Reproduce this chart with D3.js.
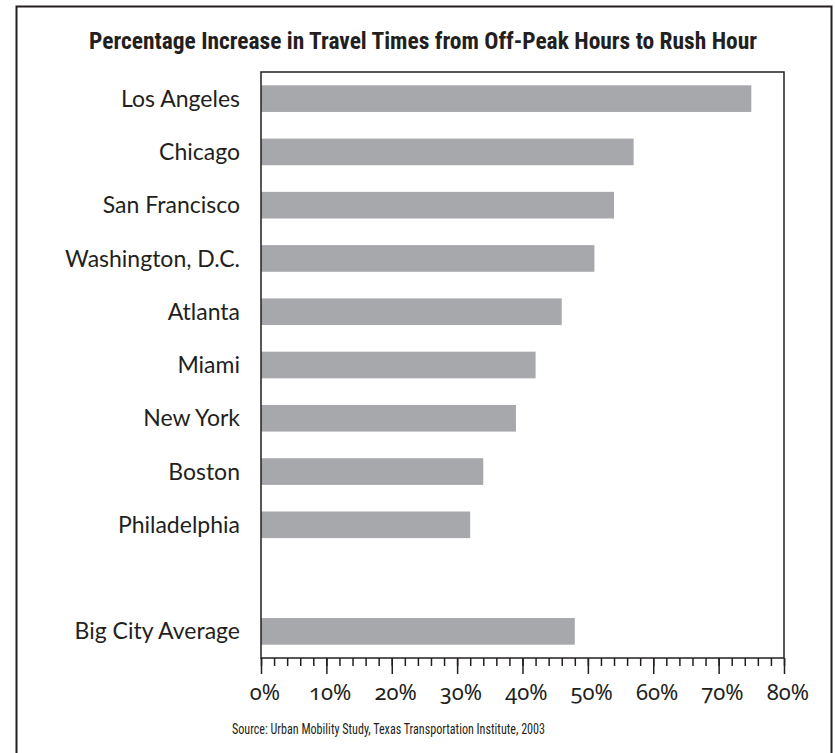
<!DOCTYPE html>
<html>
<head>
<meta charset="utf-8">
<script src="https://cdn.jsdelivr.net/npm/d3@7"></script>
<style>
  body { margin: 0; background: #fff; }
  svg text { fill: #231f20; }
</style>
</head>
<body>
<svg width="835" height="753"></svg>
<script>
// data
var cities = ["Los Angeles", "Chicago", "San Francisco", "Washington, D.C.", "Atlanta",
              "Miami", "New York", "Boston", "Philadelphia", "", "Big City Average"];
var increase = [75, 57, 54, 51, 46, 42, 39, 34, 32, null, 48];
var majorTicks = [0, 10, 20, 30, 40, 50, 60, 70, 80];

var svg = d3.select("svg"),
    margin = { top: 72, right: 51, bottom: 95, left: 261 },
    width = +svg.attr("width") - margin.left - margin.right,
    height = +svg.attr("height") - margin.top - margin.bottom,
    g = svg.append("g").attr("transform", "translate(" + margin.left + "," + margin.top + ")");

var data = cities.map(function (c, i) { return { city: c, value: increase[i] }; });

// outer frame
svg.append("rect")
    .attr("x", 16.5).attr("y", 6.5)
    .attr("width", 815).attr("height", 760)
    .attr("fill", "none")
    .attr("stroke", "#231f20")
    .attr("stroke-width", 2);

// title
svg.append("text")
    .attr("x", 423)
    .attr("y", 49)
    .attr("text-anchor", "middle")
    .attr("textLength", 668)
    .attr("lengthAdjust", "spacingAndGlyphs")
    .style("font-family", "'Liberation Sans Narrow', 'Roboto Condensed', 'DejaVu Sans Condensed', sans-serif")
    .style("font-weight", "bold")
    .style("font-size", "23px")
    .text("Percentage Increase in Travel Times from Off-Peak Hours to Rush Hour");

var x = d3.scaleLinear()
    .domain([0, 80])
    .range([0, width]);

var y = d3.scaleBand()
    .domain(cities.map(function (c, i) { return i; }))
    .range([0, height])
    .paddingInner(0.5)
    .paddingOuter(0.25);

// bars
g.selectAll(".bar")
    .data(data.filter(function (d) { return d.value != null; }))
    .enter().append("rect")
    .attr("class", "bar")
    .attr("x", 0)
    .attr("y", function (d) { return y(cities.indexOf(d.city)); })
    .attr("width", function (d) { return x(d.value); })
    .attr("height", y.bandwidth())
    .attr("fill", "#a7a8ab");

// plot box
g.append("rect")
    .attr("width", width)
    .attr("height", height)
    .attr("fill", "none")
    .attr("stroke", "#231f20")
    .attr("stroke-width", 1.5);

// city labels
g.selectAll(".city")
    .data(data)
    .enter().append("text")
    .attr("class", "city")
    .attr("x", -21)
    .attr("y", function (d, i) { return y(i) + y.bandwidth() / 2; })
    .attr("dy", "0.35em")
    .attr("text-anchor", "end")
    .style("font-family", "Lato, 'Open Sans', sans-serif")
    .style("font-size", "23px")
    .text(function (d) { return d.city; });

// minor ticks every 2%
var minor = g.append("g")
    .attr("transform", "translate(0," + height + ")")
    .call(d3.axisBottom(x).tickValues(d3.range(0, 81, 2)).tickSize(8).tickFormat(""));
minor.select(".domain").remove();

// major ticks + labels
var axis = g.append("g")
    .attr("transform", "translate(0," + height + ")")
    .call(d3.axisBottom(x).tickValues(majorTicks).tickSize(16).tickPadding(10)
        .tickFormat(function (d) { return d + "%"; }));
axis.select(".domain").remove();

g.selectAll(".tick line")
    .attr("stroke", "#231f20")
    .attr("stroke-width", 1.5);

axis.selectAll("text")
    .style("font-family", "'Noto Sans', 'Open Sans', sans-serif")
    .style("font-feature-settings", "'onum' 1")
    .style("font-variant-numeric", "oldstyle-nums")
    .style("font-size", "22px")
    .attr("dx", "0.15em");

// source
svg.append("text")
    .attr("x", 232)
    .attr("y", 734)
    .attr("textLength", 313)
    .attr("lengthAdjust", "spacingAndGlyphs")
    .style("font-family", "'Liberation Sans Narrow', 'Roboto Condensed', 'DejaVu Sans Condensed', sans-serif")
    .style("font-size", "14px")
    .text("Source: Urban Mobility Study, Texas Transportation Institute, 2003");
</script>
</body>
</html>
